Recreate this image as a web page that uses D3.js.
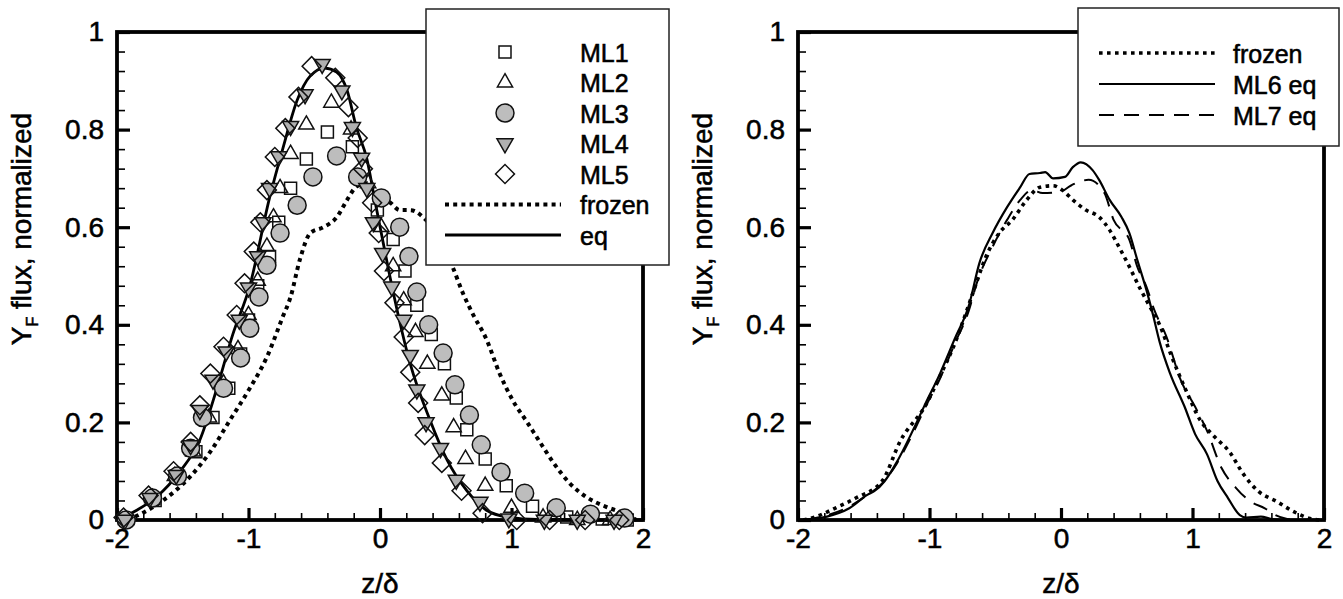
<!DOCTYPE html>
<html>
<head>
<meta charset="utf-8">
<script src="https://cdn.jsdelivr.net/npm/d3@7"></script>
<style>
  body { margin: 0; background: #fff; }
  svg text { font-family: "Liberation Sans", Arial, Helvetica, sans-serif; fill: #000; stroke: #000; stroke-width: 0.55px; }
</style>
</head>
<body>
<div id="chart"></div>
<script>
// ---- data: [z/delta, normalized Y_F flux] ----
const ml1 = [[-1.93,0],[-1.71,0.04],[-1.55,0.09],[-1.40,0.14],[-1.27,0.21],[-1.15,0.27],[-1.06,0.34],[-1.0,0.41],[-0.93,0.48],[-0.84,0.54],[-0.77,0.61],[-0.68,0.68],[-0.56,0.74],[-0.40,0.795],[-0.21,0.765],[-0.02,0.635],[0.10,0.575],[0.19,0.51],[0.28,0.44],[0.39,0.38],[0.49,0.32],[0.58,0.25],[0.66,0.185],[0.80,0.125],[0.96,0.07],[1.16,0.028],[1.42,0.006],[1.69,0.002],[1.88,0]];
const ml2 = [[-1.93,0],[-1.73,0.045],[-1.56,0.09],[-1.42,0.14],[-1.30,0.21],[-1.19,0.28],[-1.08,0.35],[-1.0,0.42],[-0.93,0.49],[-0.86,0.56],[-0.81,0.62],[-0.76,0.68],[-0.68,0.75],[-0.56,0.81],[-0.37,0.855],[-0.22,0.80],[-0.09,0.69],[0.01,0.60],[0.10,0.52],[0.18,0.45],[0.27,0.385],[0.36,0.32],[0.47,0.255],[0.56,0.19],[0.65,0.125],[0.80,0.07],[1.0,0.025],[1.24,0.005],[1.5,0],[1.75,0]];
const ml3 = [[-1.93,0],[-1.73,0.045],[-1.54,0.09],[-1.44,0.147],[-1.35,0.21],[-1.19,0.27],[-1.06,0.332],[-0.99,0.393],[-0.92,0.457],[-0.86,0.522],[-0.76,0.588],[-0.63,0.645],[-0.51,0.703],[-0.33,0.746],[-0.17,0.703],[0.01,0.66],[0.15,0.60],[0.22,0.54],[0.28,0.467],[0.37,0.40],[0.48,0.342],[0.57,0.277],[0.68,0.215],[0.77,0.154],[0.92,0.098],[1.10,0.055],[1.34,0.025],[1.60,0.012],[1.86,0.004]];
const ml4 = [[-1.94,0],[-1.75,0.045],[-1.55,0.092],[-1.44,0.153],[-1.37,0.225],[-1.27,0.287],[-1.17,0.345],[-1.07,0.41],[-1.0,0.476],[-0.93,0.54],[-0.89,0.61],[-0.84,0.68],[-0.77,0.745],[-0.68,0.807],[-0.57,0.872],[-0.44,0.934],[-0.29,0.88],[-0.21,0.805],[-0.14,0.742],[-0.10,0.68],[-0.05,0.61],[0.02,0.547],[0.09,0.478],[0.18,0.41],[0.23,0.338],[0.28,0.267],[0.35,0.20],[0.46,0.147],[0.58,0.082],[0.76,0.037],[0.98,0.003],[1.25,0],[1.5,0],[1.78,0]];
const ml5 = [[-1.95,0.005],[-1.76,0.05],[-1.57,0.10],[-1.44,0.16],[-1.37,0.235],[-1.29,0.30],[-1.19,0.355],[-1.09,0.42],[-1.03,0.485],[-0.96,0.55],[-0.91,0.61],[-0.86,0.676],[-0.80,0.744],[-0.72,0.803],[-0.62,0.867],[-0.52,0.93],[-0.34,0.906],[-0.24,0.846],[-0.17,0.783],[-0.13,0.72],[-0.06,0.65],[-0.01,0.588],[0.03,0.51],[0.11,0.445],[0.18,0.375],[0.23,0.303],[0.29,0.24],[0.34,0.174],[0.47,0.117],[0.62,0.06],[0.78,0.014],[1.04,0],[1.29,0],[1.56,0],[1.82,0]];
const eqLeft = [[-2,0],[-1.85,0.02],[-1.70,0.047],[-1.52,0.10],[-1.37,0.164],[-1.24,0.27],[-1.12,0.38],[-0.99,0.48],[-0.84,0.66],[-0.74,0.76],[-0.63,0.86],[-0.53,0.91],[-0.42,0.926],[-0.33,0.918],[-0.25,0.88],[-0.18,0.805],[-0.10,0.74],[-0.04,0.656],[0.02,0.574],[0.09,0.48],[0.23,0.32],[0.38,0.205],[0.51,0.123],[0.66,0.06],[0.81,0.02],[0.97,0.006],[1.2,0.001],[2,0]];
const frozenLeft = [[-1.92,0],[-1.8,0.015],[-1.65,0.04],[-1.44,0.09],[-1.29,0.14],[-1.14,0.205],[-0.99,0.27],[-0.86,0.334],[-0.74,0.416],[-0.68,0.457],[-0.61,0.533],[-0.53,0.588],[-0.43,0.60],[-0.33,0.62],[-0.25,0.656],[-0.18,0.683],[-0.10,0.69],[-0.05,0.676],[0.08,0.65],[0.15,0.635],[0.23,0.635],[0.33,0.62],[0.42,0.59],[0.49,0.555],[0.55,0.52],[0.63,0.465],[0.71,0.42],[0.81,0.37],[0.91,0.30],[1.01,0.245],[1.12,0.20],[1.22,0.158],[1.32,0.117],[1.44,0.076],[1.57,0.047],[1.72,0.027],[1.85,0.014],[1.95,0]];
const frozenRight = [[-1.96,0],[-1.86,0.007],[-1.72,0.024],[-1.56,0.045],[-1.36,0.08],[-1.22,0.163],[-1.03,0.235],[-0.92,0.295],[-0.81,0.36],[-0.67,0.465],[-0.57,0.54],[-0.47,0.588],[-0.37,0.615],[-0.26,0.656],[-0.16,0.682],[-0.06,0.685],[0.01,0.676],[0.09,0.656],[0.19,0.635],[0.29,0.621],[0.37,0.594],[0.44,0.56],[0.52,0.519],[0.60,0.475],[0.67,0.44],[0.75,0.40],[0.84,0.336],[0.95,0.266],[1.06,0.204],[1.17,0.17],[1.28,0.14],[1.39,0.093],[1.50,0.059],[1.64,0.038],[1.77,0.017],[1.91,0.002],[1.97,0]];
const ml6eq = [[-1.98,0],[-1.78,0.007],[-1.61,0.024],[-1.47,0.052],[-1.42,0.059],[-1.34,0.08],[-1.25,0.118],[-1.14,0.176],[-1.03,0.239],[-0.92,0.30],[-0.81,0.37],[-0.70,0.44],[-0.62,0.527],[-0.52,0.588],[-0.41,0.641],[-0.31,0.682],[-0.24,0.709],[-0.16,0.711],[-0.12,0.713],[-0.06,0.70],[0.03,0.703],[0.09,0.723],[0.15,0.733],[0.24,0.717],[0.29,0.697],[0.37,0.656],[0.46,0.621],[0.52,0.588],[0.58,0.533],[0.65,0.471],[0.70,0.42],[0.75,0.365],[0.83,0.30],[0.94,0.232],[1.02,0.176],[1.11,0.135],[1.19,0.08],[1.27,0.045],[1.36,0.01],[1.41,0.005],[1.52,0.007],[1.60,0.002],[1.69,0]];
const ml7eq = [[-1.95,0],[-1.8,0.008],[-1.62,0.026],[-1.48,0.05],[-1.36,0.075],[-1.25,0.115],[-1.14,0.17],[-1.03,0.232],[-0.92,0.29],[-0.81,0.36],[-0.70,0.43],[-0.64,0.486],[-0.52,0.56],[-0.41,0.615],[-0.31,0.656],[-0.22,0.676],[-0.14,0.67],[-0.01,0.672],[0.08,0.686],[0.21,0.697],[0.33,0.67],[0.40,0.615],[0.52,0.574],[0.58,0.519],[0.65,0.478],[0.71,0.43],[0.80,0.377],[0.91,0.287],[1.02,0.232],[1.11,0.183],[1.22,0.107],[1.33,0.066],[1.44,0.038],[1.55,0.024],[1.63,0.01],[1.72,0.002],[1.8,0]];

const xTicks = [-2, -1, 0, 1, 2];
const yTicks = [0, 0.2, 0.4, 0.6, 0.8, 1];
const xTickLabels = ["-2", "-1", "0", "1", "2"];
const yTickLabels = ["0", "0.2", "0.4", "0.6", "0.8", "1"];
const leftLegend = ["ML1", "ML2", "ML3", "ML4", "ML5", "frozen", "eq"];
const rightLegend = ["frozen", "ML6 eq", "ML7 eq"];

const width = 1343, height = 599;
const svg = d3.select("#chart").append("svg")
  .attr("width", width).attr("height", height);

const GRAY = "#bdbdbd";
const markers = {
  square:  { type: d3.symbolSquare,   size: 144, rot: 0,   fill: "none" },
  tri:     { type: d3.symbolTriangle, size: 100, rot: 0,   fill: "none" },
  circle:  { type: d3.symbolCircle,   size: 254, rot: 0,   fill: GRAY },
  triDown: { type: d3.symbolTriangle, size: 112, rot: 180, fill: "#b0b0b0" },
  diamond: { type: d3.symbolSquare,   size: 180, rot: 45,  fill: "none" }
};
const styles = {
  solid:  { w: 2.8, dash: null },
  dotted: { w: 4,   dash: "4,4.2" },
  dashed: { w: 2,   dash: "15,10" }
};

function drawMarker(g, m, cx, cy) {
  g.append("path")
    .attr("d", d3.symbol().type(m.type).size(m.size)())
    .attr("transform", `translate(${cx},${cy}) rotate(${m.rot})`)
    .attr("fill", m.fill)
    .attr("stroke", "#111")
    .attr("stroke-width", 1.5);
}

function makePanel(left) {
  const x = d3.scaleLinear().domain([-2, 2]).range([left, left + 526]);
  const y = d3.scaleLinear().domain([0, 1]).range([520, 32]);
  const g = svg.append("g");

  // minor ticks
  const xMinor = d3.range(-2, 2.001, 0.2).filter(v => Math.abs(v - Math.round(v)) > 1e-6);
  const yMinor = d3.range(0, 1.001, 0.04).filter(v => Math.abs(v * 5 - Math.round(v * 5)) > 1e-6);
  g.append("g").attr("transform", "translate(0,520)")
    .call(d3.axisBottom(x).tickValues(xMinor).tickSizeInner(-7).tickSizeOuter(0).tickFormat(""))
    .call(a => a.select(".domain").remove())
    .selectAll("line").attr("stroke-width", 1.6);
  g.append("g").attr("transform", `translate(${left},0)`)
    .call(d3.axisLeft(y).tickValues(yMinor).tickSizeInner(-8).tickSizeOuter(0).tickFormat(""))
    .call(a => a.select(".domain").remove())
    .selectAll("line").attr("stroke-width", 1.6);

  // major ticks with labels
  const xa = g.append("g").attr("transform", "translate(0,520)")
    .call(d3.axisBottom(x).tickValues(xTicks).tickSizeInner(-12).tickSizeOuter(0).tickPadding(8)
      .tickFormat((d, i) => xTickLabels[i]));
  xa.select(".domain").remove();
  xa.selectAll("line").attr("stroke-width", 3.2);
  xa.selectAll("text").attr("font-size", 28).attr("font-family", null);

  const ya = g.append("g").attr("transform", `translate(${left},0)`)
    .call(d3.axisLeft(y).tickValues(yTicks).tickSizeInner(-13).tickSizeOuter(0).tickPadding(13)
      .tickFormat((d, i) => yTickLabels[i]));
  ya.select(".domain").remove();
  ya.selectAll("line").attr("stroke-width", 3.2);
  ya.selectAll("text").attr("font-size", 28).attr("font-family", null);

  // frame
  g.append("rect")
    .attr("x", x(-2)).attr("y", y(1))
    .attr("width", x(2) - x(-2)).attr("height", y(0) - y(1))
    .attr("fill", "none").attr("stroke", "#000").attr("stroke-width", 3.8);

  // axis titles
  g.append("text")
    .attr("x", x(0)).attr("y", 593)
    .attr("text-anchor", "middle").attr("font-size", 28)
    .text("z/δ");
  const yt = g.append("text")
    .attr("transform", `translate(${left - 86},229) rotate(-90)`)
    .attr("text-anchor", "middle").attr("font-size", 28);
  yt.append("tspan").text("Y");
  yt.append("tspan").attr("font-size", 16).attr("dy", 7).text("F");
  yt.append("tspan").attr("dy", -7).text(" flux, normalized");

  const plot = g.append("g");
  return { x, y, g, plot };
}

function drawLine(p, data, st) {
  const line = d3.line().x(d => p.x(d[0])).y(d => p.y(d[1])).curve(d3.curveMonotoneX);
  p.plot.append("path")
    .datum(data)
    .attr("d", line)
    .attr("fill", "none")
    .attr("stroke", "#000")
    .attr("stroke-width", st.w)
    .attr("stroke-dasharray", st.dash)
    .attr("stroke-linejoin", "round");
}

function drawSeries(p, data, m) {
  const gg = p.plot.append("g");
  data.forEach(d => drawMarker(gg, m, p.x(d[0]), p.y(d[1])));
}

// ---- left panel ----
const pL = makePanel(117);
drawLine(pL, frozenLeft, styles.dotted);
drawLine(pL, eqLeft, styles.solid);
drawSeries(pL, ml1, markers.square);
drawSeries(pL, ml2, markers.tri);
drawSeries(pL, ml3, markers.circle);
drawSeries(pL, ml4, markers.triDown);
drawSeries(pL, ml5, markers.diamond);

// left legend
const lg = svg.append("g");
lg.append("rect").attr("x", 426).attr("y", 9).attr("width", 243).attr("height", 256)
  .attr("fill", "#fff").attr("stroke", "#222").attr("stroke-width", 1.5);
const legMarkers = [markers.square, markers.tri, markers.circle, markers.triDown, markers.diamond];
leftLegend.forEach((name, i) => {
  const cy = 52 + i * 30.5;
  if (i < 5) {
    drawMarker(lg, legMarkers[i], 505, cy);
  } else {
    const st = i === 5 ? styles.dotted : styles.solid;
    lg.append("line").attr("x1", 445).attr("x2", 561).attr("y1", cy).attr("y2", cy)
      .attr("stroke", "#000").attr("stroke-width", st.w).attr("stroke-dasharray", st.dash);
  }
  lg.append("text").attr("x", 580).attr("y", cy + 9.5).attr("font-size", 25).text(name);
});

// ---- right panel ----
const pR = makePanel(798);
drawLine(pR, frozenRight, { w: 3.6, dash: "3.6,4.4" });
drawLine(pR, ml6eq, { w: 2.2, dash: null });
drawLine(pR, ml7eq, styles.dashed);

const rg = svg.append("g");
rg.append("rect").attr("x", 1078).attr("y", 8).attr("width", 261).attr("height", 138)
  .attr("fill", "#fff").attr("stroke", "#222").attr("stroke-width", 1.5);
const rStyles = [{ w: 3.6, dash: "3.6,4.4" }, { w: 2.2, dash: null }, styles.dashed];
rightLegend.forEach((name, i) => {
  const cy = 53 + i * 31;
  rg.append("line").attr("x1", 1099).attr("x2", 1215).attr("y1", cy).attr("y2", cy)
    .attr("stroke", "#000").attr("stroke-width", rStyles[i].w).attr("stroke-dasharray", rStyles[i].dash);
  rg.append("text").attr("x", 1233).attr("y", cy + 9.5).attr("font-size", 25).text(name);
});
</script>
</body>
</html>
